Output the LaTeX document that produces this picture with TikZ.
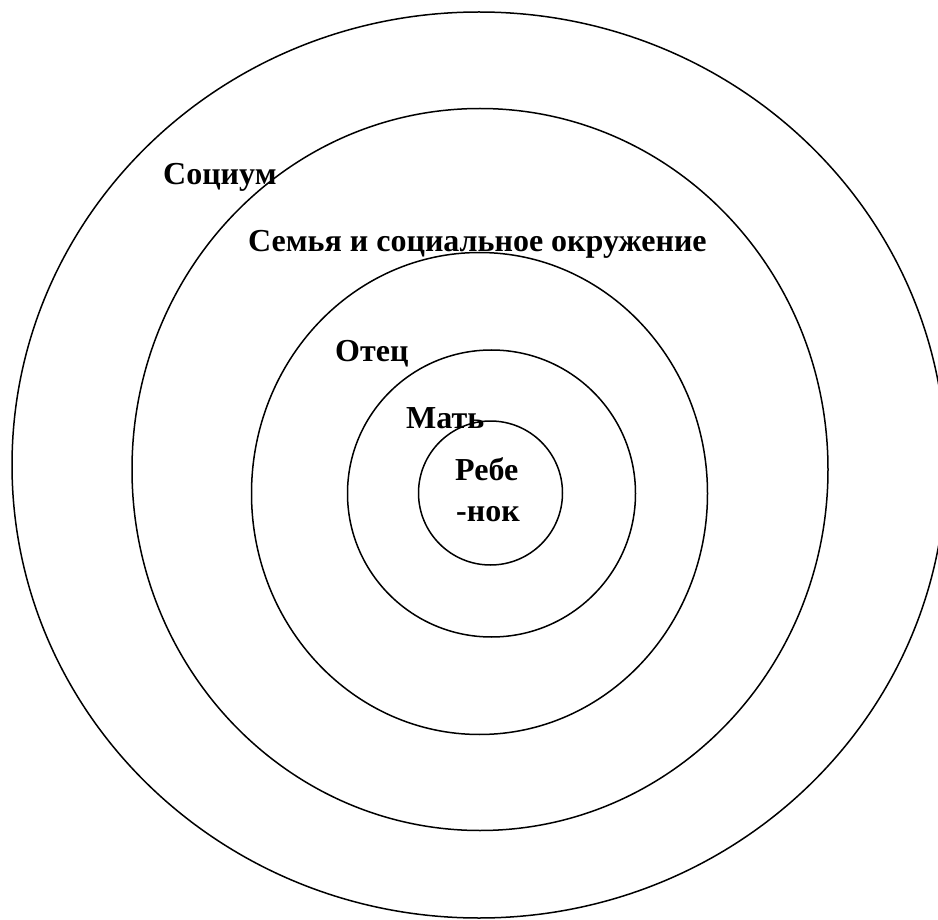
\documentclass[tikz,border=0pt]{standalone}
\usepackage{fontspec}
\setmainfont{Liberation Serif}
\begin{document}
\begin{tikzpicture}[x=1pt,y=-1pt,
  ring/.style={draw=black,line width=1.5pt},
  lbl/.style={inner sep=0pt,anchor=base west,font=\bfseries\fontsize{32}{38}\selectfont}]
\useasboundingbox (0,0) rectangle (938,920);
\clip (0,0) rectangle (938,920);
\node[lbl] (socium) at (163,185) {Социум};
\node[lbl] (semya) at (248,252) {Семья и социальное окружение};
\node[lbl] (otec) at (335,361.5) {Отец};
\node[lbl] (mat) at (406,428) {Мать};
\node[lbl] (reb1) at (455,480) {Ребе};
\node[lbl] (reb2) at (456,521.5) {-нок};
\draw[ring] (479,465) ellipse [x radius=467, y radius=453];
\draw[ring] (480,469.5) ellipse [x radius=348, y radius=361];
\draw[ring] (479.5,493.5) ellipse [x radius=228, y radius=241];
\draw[ring] (491.5,493.5) ellipse [x radius=144, y radius=143.5];
\draw[ring] (490.5,493) ellipse [x radius=72, y radius=72];
\end{tikzpicture}
\end{document}
